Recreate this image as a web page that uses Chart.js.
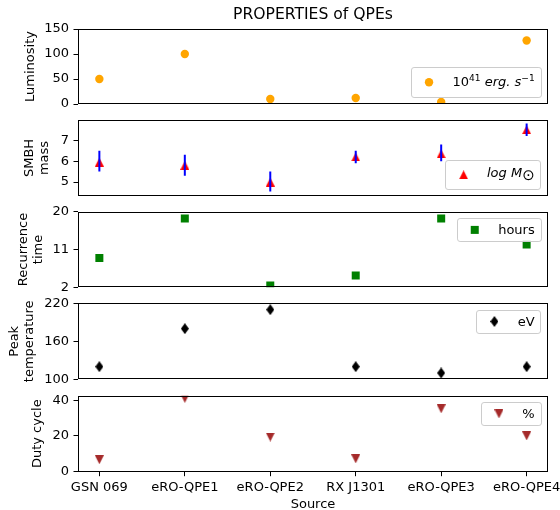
<!DOCTYPE html>
<html>
<head>
<meta charset="utf-8">
<script src="https://cdn.jsdelivr.net/npm/chart.js@4"></script>
<style>
html, body { margin: 0; padding: 0; background: #fff; overflow: hidden; }
#wrap { position: relative; width: 560px; height: 510px; }
.panel { position: absolute; left: 0; width: 560px; }
</style>
</head>
<body>
<div id="wrap">
  <div class="panel" style="top:0px;height:110px"><canvas id="c0"></canvas></div>
  <div class="panel" style="top:110px;height:90px"><canvas id="c1"></canvas></div>
  <div class="panel" style="top:200px;height:92px"><canvas id="c2"></canvas></div>
  <div class="panel" style="top:292px;height:92px"><canvas id="c3"></canvas></div>
  <div class="panel" style="top:384px;height:130px"><canvas id="c4"></canvas></div>
</div>
<script>
// data
const sources = ['GSN 069', 'eRO-QPE1', 'eRO-QPE2', 'RX J1301', 'eRO-QPE3', 'eRO-QPE4'];
const luminosity = [50, 100, 10, 12, 4, 127];
const smbhMass = [5.95, 5.8, 5.0, 6.2, 6.35, 7.5];
const smbhLow = [5.5, 5.3, 4.55, 5.9, 6.0, 7.2];
const smbhHigh = [6.5, 6.3, 5.5, 6.5, 6.8, 7.8];
const recurrence = [9, 18.4, 2.4, 4.8, 18.4, 12.2];
const peakTemp = [120, 180, 210, 120, 110, 120];
const dutyCycle = [6.7, 41, 19.4, 7.2, 35.2, 20];

const lumTicks = [0, 50, 100, 150];
const massTicks = [5, 6, 7];
const recTicks = [2, 11, 20];
const tempTicks = [100, 160, 220];
const dutyTicks = [0, 20, 40];

Chart.defaults.font.family = "'DejaVu Sans', sans-serif";
Chart.defaults.font.size = 13;
Chart.defaults.color = '#000';

// small canvases used as point styles (matplotlib-like markers)
function marker(w, h, pts, color) {
    var c = document.createElement('canvas');
    c.width = w; c.height = h;
    var g = c.getContext('2d');
    g.fillStyle = color;
    g.beginPath();
    pts.forEach(function (p, i) {
        var x = (p[0] + 1) / 2 * w, y = (1 - p[1]) / 2 * h;
        if (i) g.lineTo(x, y); else g.moveTo(x, y);
    });
    g.closePath();
    g.fill();
    return c;
}
const triUp = marker(9, 9, [[0, 1], [-1, -1], [1, -1]], '#ff0000');
const triDown = marker(9, 9, [[0, -1], [-1, 1], [1, 1]], '#a52a2a');
const thinDiamond = marker(8, 11, [[0, 1], [1, 0], [0, -1], [-1, 0]], '#000000');

function points(values) {
    return values.map(function (v, i) { return {x: i, y: v}; });
}

// vertical error segments, split by null gaps
function errorSegments(lo, hi) {
    var out = [];
    lo.forEach(function (v, i) {
        out.push({x: i, y: v}, {x: i, y: hi[i]}, {x: i, y: null});
    });
    return out;
}

// black frame around each axes
const frame = {
    id: 'frame',
    afterDatasetsDraw(chart) {
        var a = chart.chartArea, ctx = chart.ctx;
        ctx.save();
        ctx.strokeStyle = '#000';
        ctx.lineWidth = 1;
        var l = Math.round(a.left) + 0.5, t = Math.round(a.top) + 0.5;
        var r = Math.round(a.right) - 0.5, b = Math.round(a.bottom) - 0.5;
        ctx.strokeRect(l, t, r - l, b - t);
        ctx.restore();
    }
};

function drawMarker(ctx, ds, x, y) {
    var st = ds.pointStyle;
    if (typeof st === 'object') {
        ctx.drawImage(st, x - st.width / 2, y - st.height / 2);
    } else if (st === 'rect') {
        var s = ds.pointRadius * Math.SQRT1_2;
        ctx.fillStyle = ds.backgroundColor;
        ctx.fillRect(x - s, y - s, 2 * s, 2 * s);
    } else {
        ctx.fillStyle = ds.backgroundColor;
        ctx.beginPath();
        ctx.arc(x, y, ds.pointRadius, 0, Math.PI * 2);
        ctx.fill();
    }
}

function partFont(p) {
    var size = p.sup ? 9.1 : (p.size || 13);
    return (p.it ? 'italic ' : '') + size + "px 'DejaVu Sans'";
}

// matplotlib style legend box inside the axes
const boxLegend = {
    id: 'boxLegend',
    afterDraw(chart, args, opts) {
        if (!opts || !opts.parts) return;
        var ds = chart.data.datasets.find(function (d) { return !d.errorBar; });
        var ctx = chart.ctx, a = chart.chartArea;
        ctx.save();
        var w = 0;
        opts.parts.forEach(function (p) { ctx.font = partFont(p); w += ctx.measureText(p.t).width; });
        var h = opts.h || 23.4;
        var bw = 5.2 + 26 + 10.4 + w + 6;
        var x0 = a.right - 7.3 - bw;
        var y0 = opts.where === 'upper' ? a.top + 6.5 : a.bottom - 6.5 - h;
        ctx.beginPath();
        ctx.roundRect(Math.round(x0) + 0.5, Math.round(y0) + 0.5, Math.round(bw), Math.round(h), 2.6);
        ctx.fillStyle = 'rgba(255,255,255,0.8)';
        ctx.fill();
        ctx.strokeStyle = '#cccccc';
        ctx.lineWidth = 1;
        ctx.stroke();
        var cy = y0 + h / 2;
        drawMarker(ctx, ds, x0 + 5.2 + 13, cy);
        var tx = x0 + 41.6, base = cy + (opts.dy != null ? opts.dy : 4.5);
        ctx.fillStyle = '#000';
        ctx.textBaseline = 'alphabetic';
        ctx.textAlign = 'left';
        opts.parts.forEach(function (p) {
            ctx.font = partFont(p);
            ctx.fillText(p.t, tx, base - (p.sup ? 5.5 : 0) + (p.down || 0));
            tx += ctx.measureText(p.t).width;
        });
        ctx.restore();
    }
};

function yAxis(min, max, ticks, title, titlePad) {
    return {
        min: min, max: max,
        afterBuildTicks: function (s) { s.ticks = ticks.map(function (v) { return {value: v}; }); },
        afterFit: function (s) { s.width = 78; s.paddingTop = 0; s.paddingBottom = 0; },
        grid: {drawOnChartArea: false, drawTicks: true, tickLength: 4.5, color: '#000', lineWidth: 1},
        border: {display: false},
        ticks: {padding: 4.5, color: '#000', font: {size: 13}},
        title: {display: true, text: title, color: '#000', font: {size: 13, lineHeight: 1.15}, padding: {top: titlePad, bottom: 0}}
    };
}

function xAxis(show) {
    return {
        type: 'linear', min: -0.25, max: 5.25,
        display: show,
        afterBuildTicks: function (s) { s.ticks = sources.map(function (_, i) { return {value: i}; }); },
        afterFit: function (s) { s.paddingLeft = 0; s.paddingRight = 0; },
        grid: {drawOnChartArea: false, drawTicks: true, tickLength: 4.5, color: '#000', lineWidth: 1},
        border: {display: false},
        ticks: {autoSkip: false, maxRotation: 0, padding: 3.7, color: '#000', font: {size: 13},
                callback: function (v) { return sources[v] !== undefined ? sources[v] : ''; }},
        title: {display: true, text: 'Source', color: '#000', font: {size: 13}, padding: {top: -2.7, bottom: 0}}
    };
}

function panel(id, cfg) {
    return new Chart(document.getElementById(id), {
        type: 'scatter',
        data: {datasets: cfg.datasets},
        options: {
            responsive: true,
            maintainAspectRatio: false,
            animation: false,
            events: [],
            layout: {autoPadding: false, padding: {top: cfg.padTop, bottom: cfg.padBottom, left: 0, right: 12}},
            scales: {x: xAxis(!!cfg.showX), y: cfg.y},
            plugins: {
                legend: {display: false},
                tooltip: {enabled: false},
                title: cfg.title || {display: false},
                boxLegend: cfg.legend
            }
        },
        plugins: [frame, boxLegend]
    });
}

panel('c0', {
    padTop: 0, padBottom: 6,
    title: {display: true, text: 'PROPERTIES of QPEs', fullSize: false, color: '#000',
            font: {size: 15.6, weight: 'normal'}, padding: {top: 6, bottom: 4.3}},
    y: yAxis(0, 150, lumTicks, 'Luminosity', 22.8),
    datasets: [{
        data: points(luminosity), pointStyle: 'circle', pointRadius: 4.2, pointBorderWidth: 0,
        backgroundColor: '#ffa500', pointBackgroundColor: '#ffa500', clip: 0
    }],
    legend: {where: 'lower', h: 30.4, dy: 4,
             parts: [{t: '10'}, {t: '41', sup: 1}, {t: ' '}, {t: 'erg. s', it: 1}, {t: '\u22121', sup: 1}]}
});

panel('c1', {
    padTop: 10, padBottom: 4,
    y: yAxis(4.335, 7.965, massTicks, ['SMBH', 'mass'], 22.5),
    datasets: [{
        data: points(smbhMass), pointStyle: triUp, pointRadius: 4.5, pointBorderWidth: 0,
        backgroundColor: '#ff0000', clip: 0, order: 1
    }, {
        errorBar: true, order: 0, showLine: true, spanGaps: false,
        data: errorSegments(smbhLow, smbhHigh),
        borderColor: '#0000ff', borderWidth: 2, pointRadius: 0, clip: 0
    }],
    legend: {where: 'lower', h: 29.3, dy: 2,
             parts: [{t: 'log M', it: 1}, {t: '\u2299', size: 15, down: 3}]}
});

panel('c2', {
    padTop: 11.7, padBottom: 4.7,
    y: yAxis(2, 20, recTicks, ['Recurrence', 'time'], 16),
    datasets: [{
        data: points(recurrence), pointStyle: 'rect', pointRadius: 5.66, pointBorderWidth: 0,
        backgroundColor: '#008000', pointBackgroundColor: '#008000', clip: 0
    }],
    legend: {where: 'upper', parts: [{t: 'hours'}]}
});

panel('c3', {
    padTop: 11.3, padBottom: 4.7,
    y: yAxis(100, 220, tempTicks, ['Peak', 'temperature'], 7),
    datasets: [{
        data: points(peakTemp), pointStyle: thinDiamond, pointRadius: 5, pointBorderWidth: 0,
        backgroundColor: '#000000', clip: 0
    }],
    legend: {where: 'upper', parts: [{t: 'eV'}]}
});

panel('c4', {
    padTop: 11.7, padBottom: 1.9, showX: true,
    y: yAxis(0, 42.5, dutyTicks, 'Duty cycle', 30.5),
    datasets: [{
        data: points(dutyCycle), pointStyle: triDown, pointRadius: 4.5, pointBorderWidth: 0,
        backgroundColor: '#a52a2a', clip: 0
    }],
    legend: {where: 'upper', parts: [{t: '%'}]}
});
</script>
</body>
</html>
